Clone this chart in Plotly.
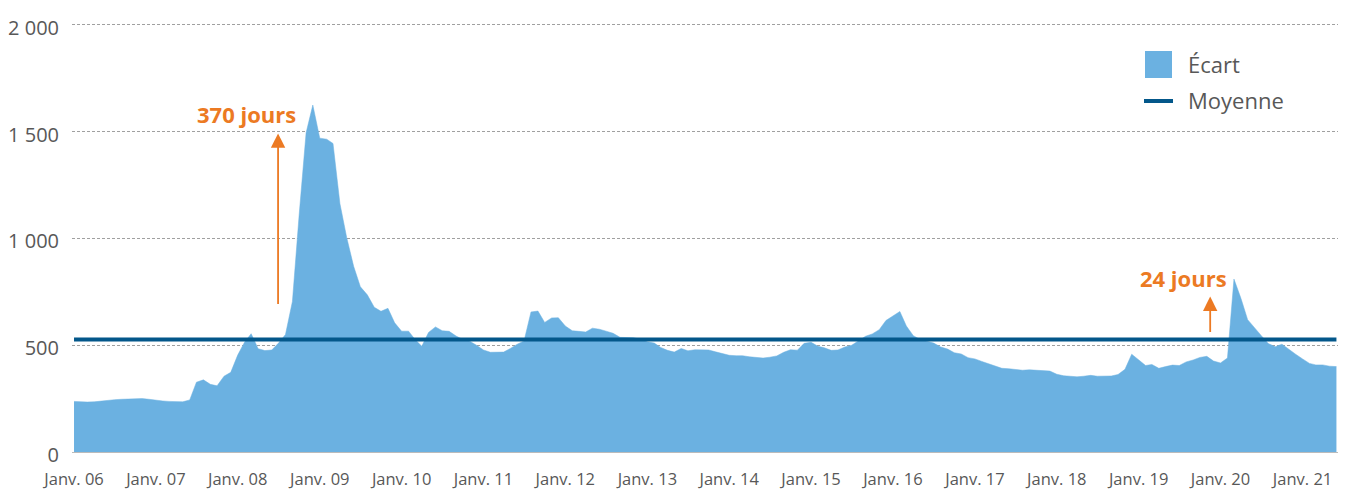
import pandas as pd
import plotly.graph_objects as go

# Monthly values (Jan 2006 -> Jun 2021)
ecart = [
    237, 235, 234, 235, 239, 243, 245, 247, 249, 249,
    250, 247, 242, 239, 237, 236, 235, 244, 327, 338,
    317, 310, 355, 373, 454, 515, 554, 484, 475, 478,
    510, 550, 705, 1110, 1495, 1625, 1470, 1465, 1445, 1163,
    1005, 870, 774, 736, 678, 659, 673, 605, 566, 566,
    528, 495, 560, 586, 568, 565, 543, 527, 519, 500,
    478, 467, 467, 468, 485, 505, 520, 656, 660, 607,
    628, 629, 590, 568, 565, 562, 580, 575, 566, 556,
    537, 535, 535, 528, 516, 510, 490, 476, 468, 485,
    474, 479, 480, 478, 469, 462, 453, 451, 451, 446,
    442, 440, 444, 450, 467, 479, 477, 509, 514, 495,
    488, 476, 478, 492, 500, 520, 542, 553, 573, 616,
    637, 658, 590, 545, 527, 518, 510, 492, 482, 465,
    459, 442, 436, 424, 413, 401, 392, 390, 385, 383,
    385, 383, 381, 379, 364, 357, 355, 352, 355, 359,
    355, 356, 356, 363, 387, 458, 430, 405, 410, 392,
    400, 407, 405, 422, 431, 443, 448, 426, 417, 440,
    810, 720, 620, 580, 545, 508, 493, 505, 480, 458,
    436, 415, 408, 408, 402, 400,
]
moyenne = 527
dates = pd.date_range("2006-01-01", periods=len(ecart), freq="MS")

tick_dates = pd.date_range("2006-01-01", "2021-01-01", freq="YS")
tick_labels = ["Janv. %02d" % (d.year % 100) for d in tick_dates]
y_ticks = [0, 500, 1000, 1500, 2000]
y_labels = ["0", "500", "1 000", "1 500", "2 000"]

AREA = "#6BB1E1"
MEAN = "#03578A"
ORANGE = "#EC7A23"
TXT = "#585858"
FONT = "Open Sans"

fig = go.Figure()
fig.add_trace(go.Scatter(
    x=dates, y=ecart, mode="lines", fill="tozeroy",
    fillcolor=AREA, line=dict(color=AREA, width=0.5),
    name="Écart", showlegend=False, hoverinfo="skip",
))
fig.add_trace(go.Scatter(
    x=[dates[0], dates[-1]], y=[moyenne, moyenne], mode="lines",
    line=dict(color=MEAN, width=4), name="Moyenne", showlegend=False,
    hoverinfo="skip",
))

W, H = 1346, 492
ML, MR, MT, MB = 72, 8, 22, 40
PW, PH = W - ML - MR, H - MT - MB


def px(x):
    return (x - ML) / PW


def py(y):
    return (H - MB - y) / PH


shapes = [
    dict(type="rect", xref="paper", yref="paper",
         x0=px(1145), x1=px(1172), y0=py(78), y1=py(51),
         fillcolor=AREA, line=dict(width=0)),
    dict(type="line", xref="paper", yref="paper",
         x0=px(1144), x1=px(1173), y0=py(101), y1=py(101),
         line=dict(color=MEAN, width=4)),
]

annotations = [
    dict(xref="paper", yref="paper", x=px(1186), y=py(64), text="Écart",
         showarrow=False, xanchor="left", yanchor="middle",
         font=dict(family=FONT, size=22, color=TXT)),
    dict(xref="paper", yref="paper", x=px(1186), y=py(100), text="Moyenne",
         showarrow=False, xanchor="left", yanchor="middle",
         font=dict(family=FONT, size=22, color=TXT)),
    # arrows
    dict(x="2008-06-29", y=1492, ax="2008-06-29", ay=686,
         xref="x", yref="y", axref="x", ayref="y", text="",
         showarrow=True, arrowhead=2, arrowsize=1.6, arrowwidth=1.8,
         arrowcolor=ORANGE, standoff=0, startstandoff=0),
    dict(x="2019-11-16", y=728, ax="2019-11-16", ay=555,
         xref="x", yref="y", axref="x", ayref="y", text="",
         showarrow=True, arrowhead=2, arrowsize=1.6, arrowwidth=1.8,
         arrowcolor=ORANGE, standoff=0, startstandoff=0),
    dict(x="2008-02-07", y=1585, xref="x", yref="y", text="<b>370 jours</b>",
         showarrow=False, xanchor="center", yanchor="middle",
         font=dict(family=FONT, size=22, color=ORANGE)),
    dict(x="2019-07-18", y=817, xref="x", yref="y", text="<b>24 jours</b>",
         showarrow=False, xanchor="center", yanchor="middle",
         font=dict(family=FONT, size=22, color=ORANGE)),
]

fig.update_layout(
    width=W, height=H,
    margin=dict(l=ML, r=MR, t=MT, b=MB, autoexpand=False),
    paper_bgcolor="white", plot_bgcolor="white",
    showlegend=False,
    shapes=shapes, annotations=annotations,
    font=dict(family=FONT, color=TXT),
)
fig.update_xaxes(
    type="date", range=["2005-12-23", "2021-06-08"],
    tickvals=list(tick_dates), ticktext=tick_labels,
    tickfont=dict(family=FONT, size=16.5, color=TXT),
    showgrid=False, zeroline=False,
    showline=True, linecolor="#BBBBBB", linewidth=1,
    ticks="", ticklabelstandoff=12,
    automargin=False,
)
fig.update_yaxes(
    range=[0, 2014], tickvals=y_ticks, ticktext=y_labels,
    tickfont=dict(family=FONT, size=20, color=TXT),
    showgrid=True, gridcolor="#A0A0A0", gridwidth=1, griddash="3px,2px",
    zeroline=False, showline=False, ticks="",
    ticklabelstandoff=12, ticklabelshift=3,
    automargin=False,
)

fig.write_html(
    "out.html",
    config={"displayModeBar": False, "staticPlot": True},
    post_script="document.body.style.margin='0';document.body.style.overflow='hidden';",
)
